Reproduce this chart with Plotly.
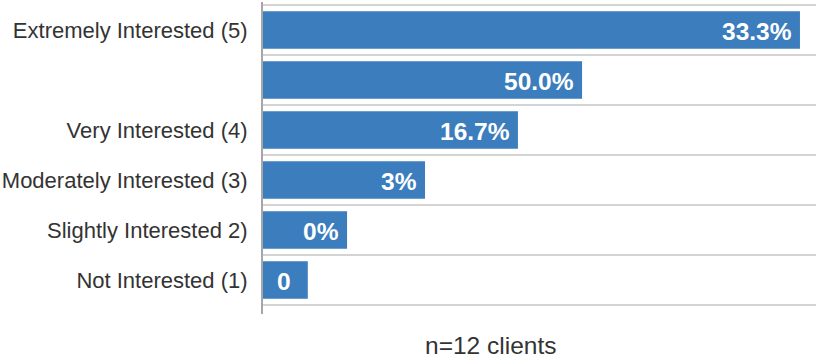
import plotly.graph_objects as go

# Interest level categories, top to bottom
categories = [
    "Extremely Interested (5)",
    "",
    "Very Interested (4)",
    "Moderately Interested (3)",
    "Slightly Interested 2)",
    "Not Interested (1)",
]

# Bar lengths on the 0-100 value axis
bar_lengths = [97.1, 57.7, 46.1, 29.3, 15.2, 8.1]

# Text printed on each bar
bar_labels = ["33.3%", "50.0%", "16.7%", "3%", "0%", "0"]

footnote = "n=12 clients"

BAR_COLOR = "#3b7dbd"
TEXT_COLOR = "#333333"
FONT = "Liberation Sans, Arial, sans-serif"

positions = list(range(len(categories)))

fig = go.Figure()
fig.add_trace(
    go.Bar(
        x=bar_lengths,
        y=positions,
        orientation="h",
        width=0.75,
        marker=dict(color=BAR_COLOR, line=dict(width=0)),
        hoverinfo="skip",
    )
)

# Value text sits just inside the end of each bar; the short last bar centres it
for i, (val, lab) in enumerate(zip(bar_lengths, bar_labels)):
    centred = i == len(bar_labels) - 1
    fig.add_annotation(
        x=val / 2 if centred else val,
        y=i,
        xref="x",
        yref="y",
        text=lab,
        showarrow=False,
        xanchor="center" if centred else "right",
        xshift=-1 if centred else -6,
        yshift=-1,
        font=dict(family=FONT, size=24.5, color="white", weight="bold"),
    )

fig.add_annotation(
    x=0.412,
    y=-0.1,
    xref="paper",
    yref="paper",
    text=footnote,
    showarrow=False,
    xanchor="center",
    yanchor="middle",
    font=dict(family=FONT, size=24.5, color=TEXT_COLOR),
)

fig.update_layout(
    width=816,
    height=360,
    margin=dict(l=263, r=0, t=2, b=46),
    paper_bgcolor="white",
    plot_bgcolor="white",
    showlegend=False,
    bargap=0.25,
    font=dict(family=FONT, color=TEXT_COLOR),
)

fig.update_xaxes(
    range=[0, 100],
    showgrid=False,
    zeroline=False,
    showticklabels=False,
    showline=False,
    fixedrange=True,
)

fig.update_yaxes(
    range=[5.68, -0.56],
    tickvals=positions,
    ticktext=categories,
    tickfont=dict(family=FONT, size=22, color=TEXT_COLOR),
    ticks="",
    ticklabelstandoff=9,
    showgrid=False,
    zeroline=False,
    showline=True,
    linecolor="#a6a6a6",
    linewidth=2,
    minor=dict(
        tickvals=[p - 0.5 for p in positions] + [positions[-1] + 0.5],
        showgrid=True,
        gridcolor="#d4d4d4",
        gridwidth=2,
        ticks="",
    ),
    fixedrange=True,
)

fig.write_html("out.html")
